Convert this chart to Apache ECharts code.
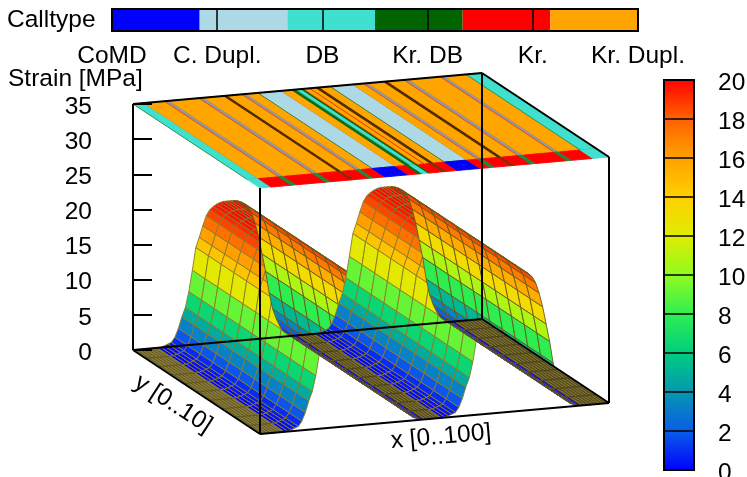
<!DOCTYPE html>
<html>
<head>
<meta charset="utf-8">
<script src="https://cdn.jsdelivr.net/npm/echarts@6/dist/echarts.min.js"></script>
<style>html,body{margin:0;padding:0;background:#fff}#c{width:747px;height:477px}</style>
</head>
<body>
<div id="c"></div>
<script>
// ---------- data ----------
var callTypes = ['CoMD', 'C. Dupl.', 'DB', 'Kr. DB', 'Kr.', 'Kr. Dupl.'];
var callColors = ['#0000ff', '#add8e6', '#40e0d0', '#006400', '#ff0000', '#ffa500'];
var zTicks = [0, 5, 10, 15, 20, 25, 30, 35];
var yPositions = [0, 1, 2, 3, 4, 5, 6, 7, 8, 9, 10];
// strain at x = 0,1,...,100
var strainProfile = [
  0, 0, 0, 0, 0, 0, 0, 0, 0.05, 0.2,
  0.4, 0.6, 1.3, 2.5, 4.1, 5.4, 7.6, 10.6, 13.8, 15.2,
  16.8, 18.2, 19, 19.4, 19.7, 19.9, 20, 20, 20, 20,
  19.9, 19.7, 19.4, 18.9, 18, 16.5, 14.5, 12, 9.5, 6.4,
  4.1, 2.7, 1.6, 0.8, 0.4, 0.2, 0.05, 0, 0, 0,
  0, 0, 0, 0.05, 0.2, 0.4, 0.6, 1.3, 2.5, 4.1,
  5.4, 7.6, 10.6, 13.8, 15.2, 16.8, 18.2, 19, 19.4, 19.7,
  19.9, 20, 20, 20, 20, 19.9, 19.7, 19.4, 18.9, 18,
  16.5, 14.5, 12, 9.5, 6.4, 4.1, 2.7, 1.6, 0.8, 0.4,
  0.2, 0.05, 0, 0, 0, 0, 0, 0, 0, 0, 0
];
// call-type stripes on the top plane: boundaries along x and the kind of each stripe
var stripeBreaks = [0, 3.2, 9, 10.5, 18.9, 20.4, 26, 27.1, 31.2, 32.6, 35.8, 42.5, 45.5, 46.5, 48.2, 48.8, 49.1, 50.6, 51, 52.4, 53.6, 56.5, 63, 66, 67.4, 71.8, 73, 77.6, 79.1, 88, 89.4, 95.4, 100];
var stripeKinds  = ['DB', 'KrDupl', 'mix', 'KrDupl', 'mix', 'KrDupl', 'dark', 'KrDupl', 'mix', 'KrDupl', 'CDupl', 'KrDupl', 'green', 'DB', 'green', 'red', 'KrDupl', 'red', 'KrDupl', 'dark', 'KrDupl', 'CDupl', 'KrDupl', 'mix', 'KrDupl', 'dark', 'KrDupl', 'mix', 'KrDupl', 'mix', 'KrDupl', 'DB'];
// colour of the same kinds in the y = 0 row
var rowZeroKinds = {DB: '#40e0d0', KrDupl: '#ff0000', mix: '#1c8a3c', dark: '#8a2a00', CDupl: '#0000ff', green: '#0a6a10', red: '#ff0000'};
var upperKinds = {DB: '#40e0d0', KrDupl: '#ffa500', mix: '#8d9aa0', dark: '#4d2c00', CDupl: '#add8e6', green: '#0a6a10', red: '#f03000'};
var upperEdges = {DB: '#1f8a3c', KrDupl: '#ffa500', mix: '#e8400a', dark: '#5a2000', CDupl: '#2c7a20', green: '#0a6a10', red: '#f03000'};
var paletteStops = [
  [0, '#0000ff'], [2, '#0a5ce8'], [4, '#0596b0'], [6, '#00cc80'], [8, '#30ee50'],
  [10, '#90fb20'], [12, '#e0ec00'], [14, '#ffd000'], [16, '#ffa000'], [18, '#ff6000'], [20, '#ff0000']
];
var colorbarRange = [0, 20];
// -------------------------------------------------

// projection of the box: screen offsets of the x and y directions
var shearPerX = 0.31, frontDX = 12.7, frontDY = 8.4;

function hexRgb(h) { return [parseInt(h.substr(1, 2), 16), parseInt(h.substr(3, 2), 16), parseInt(h.substr(5, 2), 16)]; }
function palette(v) {
  for (var i = 1; i < paletteStops.length; i++) {
    if (v <= paletteStops[i][0]) {
      var a = paletteStops[i - 1], b = paletteStops[i], t = (v - a[0]) / (b[0] - a[0]);
      var ca = hexRgb(a[1]), cb = hexRgb(b[1]);
      return 'rgb(' + Math.round(ca[0] + (cb[0] - ca[0]) * t) + ',' + Math.round(ca[1] + (cb[1] - ca[1]) * t) + ',' + Math.round(ca[2] + (cb[2] - ca[2]) * t) + ')';
    }
  }
  return paletteStops[paletteStops.length - 1][1];
}
// surface quads in scan order: x rising, y from back to front
var quads = [];
for (var ix = 0; ix + 1 < strainProfile.length; ix++) {
  for (var iy = yPositions.length - 2; iy >= 0; iy--) {
    quads.push([ix, ix + 1, yPositions[iy], yPositions[iy + 1], strainProfile[ix], strainProfile[ix + 1]]);
  }
}
var stripes = [];
stripeKinds.forEach(function (k, i) {
  stripes.push([stripeBreaks[i], stripeBreaks[i + 1], 1, 10, k]);
  stripes.push([stripeBreaks[i], stripeBreaks[i + 1], 0, 1, k]);
});
var boxEdges = [
  [0, 10, 0, 100, 10, 0], [0, 10, 0, 0, 0, 0], [0, 0, 0, 100, 0, 0], [100, 10, 0, 100, 0, 0],
  [0, 10, 35, 100, 10, 35], [100, 10, 35, 100, 0, 35],
  [0, 10, 0, 0, 10, 35], [0, 0, 0, 0, 0, 35], [100, 10, 0, 100, 10, 35], [100, 0, 0, 100, 0, 35]
];

function project(api, x, y, z) {
  var p = api.coord([x, z]);
  var f = 10 - y;
  return [p[0] + f * frontDX, p[1] + f * frontDY - shearPerX * x];
}
var font = 'Liberation Sans';
var fs = 24.5;

var chart = echarts.init(document.getElementById('c'), null, {renderer: 'canvas'});
chart.setOption({
  animation: false,
  backgroundColor: '#fff',
  textStyle: {fontFamily: font},
  grid: [
    {left: 133, top: 104, width: 349, height: 246, outerBoundsMode: 'none'},
    {left: 112, top: 9, width: 526, height: 22, outerBoundsMode: 'none'},
    {left: 664, top: 80, width: 30, height: 390, outerBoundsMode: 'none'}
  ],
  xAxis: [
    {gridIndex: 0, type: 'value', min: 0, max: 100, show: false},
    {gridIndex: 1, type: 'value', min: 0, max: 5, interval: 1, z: 10,
      axisLine: {show: false}, splitLine: {show: false},
      axisTick: {show: true, inside: true, length: 22, lineStyle: {color: '#000', width: 1.5}},
      axisLabel: {show: true, margin: 13, color: '#000', fontFamily: font, fontSize: fs, hideOverlap: false,
        formatter: function (v) { return callTypes[v]; }}},
    {gridIndex: 2, type: 'value', min: 0, max: 1, show: false}
  ],
  yAxis: [
    {gridIndex: 0, type: 'value', min: 0, max: 35, interval: 5, z: 10,
      name: 'Strain [MPa]', nameLocation: 'end', nameGap: 12,
      nameTextStyle: {color: '#000', fontFamily: font, fontSize: fs, align: 'left', padding: [0, 0, 0, -125]},
      axisLine: {show: false}, splitLine: {show: false},
      axisTick: {show: true, inside: true, length: 19, lineStyle: {color: '#000', width: 2}},
      axisLabel: {show: true, margin: 41, color: '#000', fontFamily: font, fontSize: fs, align: 'right', verticalAlign: 'top', lineHeight: 6}},
    {gridIndex: 1, type: 'value', min: 0, max: 1, show: false},
    {gridIndex: 2, type: 'value', position: 'right', min: colorbarRange[0], max: colorbarRange[1], interval: 2, z: 10,
      axisLine: {show: false}, splitLine: {show: false}, axisTick: {show: false},
      axisLabel: {show: true, margin: 24, color: '#000', fontFamily: font, fontSize: fs, align: 'left', verticalAlign: 'top', lineHeight: 6}},
    {gridIndex: 2, type: 'value', position: 'left', min: colorbarRange[0], max: colorbarRange[1], interval: 2, z: 10,
      axisLine: {show: false}, splitLine: {show: false}, axisLabel: {show: false},
      axisTick: {show: true, inside: true, length: 30, lineStyle: {color: '#000', width: 1.5}}}
  ],
  graphic: [
    {type: 'text', left: 7, top: 8, style: {text: 'Calltype', fontFamily: font, fontSize: fs, fill: '#000'}},
    {type: 'text', x: 441, y: 437, rotation: 5 * Math.PI / 180,
      style: {text: 'x [0..100]', fontFamily: font, fontSize: fs, fill: '#000', align: 'center', verticalAlign: 'middle'}},
    {type: 'text', x: 173, y: 404, rotation: -33 * Math.PI / 180,
      style: {text: 'y [0..10]', fontFamily: font, fontSize: fs, fill: '#000', align: 'center', verticalAlign: 'middle'}}
  ],
  series: [
    {type: 'custom', xAxisIndex: 0, yAxisIndex: 0, coordinateSystem: 'cartesian2d', progressive: 0, silent: true, z: 2,
      data: quads, clip: false, encode: {x: 0, y: 4},
      renderItem: function (params, api) {
        var q = quads[params.dataIndex];
        var pts = [project(api, q[0], q[2], q[4]), project(api, q[1], q[2], q[5]), project(api, q[1], q[3], q[5]), project(api, q[0], q[3], q[4])];
        var m = (q[4] + q[5]) / 2, flat = m === 0, later = q[0] > 20, falling = q[5] < q[4];
        var stroke = flat ? (later ? '#4a4015' : '#5f5520') : (falling ? '#6a5a18' : '#8a7a28');
        return {type: 'polygon', shape: {points: pts},
          style: {fill: flat ? (later ? '#7d7030' : '#8a7d3a') : palette(m), stroke: stroke, lineWidth: 0.9}};
      }},
    {type: 'custom', xAxisIndex: 0, yAxisIndex: 0, progressive: 0, silent: true, z: 3,
      data: stripes.map(function (s) { return [s[0], s[1], s[2], s[3]]; }), clip: false, encode: {x: 0, y: 2},
      renderItem: function (params, api) {
        var s = stripes[params.dataIndex], top = 35;
        var pts = [project(api, s[0], s[2], top), project(api, s[1], s[2], top), project(api, s[1], s[3], top), project(api, s[0], s[3], top)];
        var zero = s[2] === 0;
        return {type: 'polygon', shape: {points: pts},
          style: {fill: zero ? rowZeroKinds[s[4]] : upperKinds[s[4]], stroke: zero ? rowZeroKinds[s[4]] : upperEdges[s[4]], lineWidth: 0.9}};
      }},
    {type: 'custom', xAxisIndex: 0, yAxisIndex: 0, progressive: 0, silent: true, z: 4,
      data: boxEdges, clip: false, encode: {x: 0, y: 2},
      renderItem: function (params, api) {
        var e = boxEdges[params.dataIndex];
        var a = project(api, e[0], e[1], e[2]), b = project(api, e[3], e[4], e[5]);
        return {type: 'line', shape: {x1: a[0], y1: a[1], x2: b[0], y2: b[1]}, style: {stroke: '#000', lineWidth: 2}};
      }},
    {type: 'custom', xAxisIndex: 1, yAxisIndex: 1, progressive: 0, silent: true, z: 2,
      data: callColors.map(function (c, i) { return [i, c]; }), encode: {x: 0},
      renderItem: function (params, api) {
        var i = params.dataIndex, w = 5 / callColors.length;
        var a = api.coord([i * w, 1]), b = api.coord([(i + 1) * w, 0]);
        return {type: 'rect', shape: {x: a[0], y: a[1], width: b[0] - a[0], height: b[1] - a[1]}, style: {fill: callColors[i]}};
      }},
    {type: 'custom', xAxisIndex: 1, yAxisIndex: 1, silent: true, z: 3, data: [[0, 0]], encode: {x: 0},
      renderItem: function (params, api) {
        var a = api.coord([0, 1]), b = api.coord([5, 0]);
        return {type: 'rect', shape: {x: a[0], y: a[1], width: b[0] - a[0], height: b[1] - a[1]}, style: {fill: 'none', stroke: '#000', lineWidth: 2}};
      }},
    {type: 'custom', xAxisIndex: 2, yAxisIndex: 2, silent: true, z: 2, data: [colorbarRange], encode: {x: 0},
      renderItem: function (params, api) {
        var a = api.coord([0, colorbarRange[1]]), b = api.coord([1, colorbarRange[0]]);
        var stops = paletteStops.map(function (s) { return {offset: 1 - s[0] / colorbarRange[1], color: s[1]}; }).reverse();
        return {type: 'rect', shape: {x: a[0], y: a[1], width: b[0] - a[0], height: b[1] - a[1]},
          style: {fill: new echarts.graphic.LinearGradient(0, 0, 0, 1, stops), stroke: '#000', lineWidth: 2}};
      }}
  ]
});
</script>
</body>
</html>
